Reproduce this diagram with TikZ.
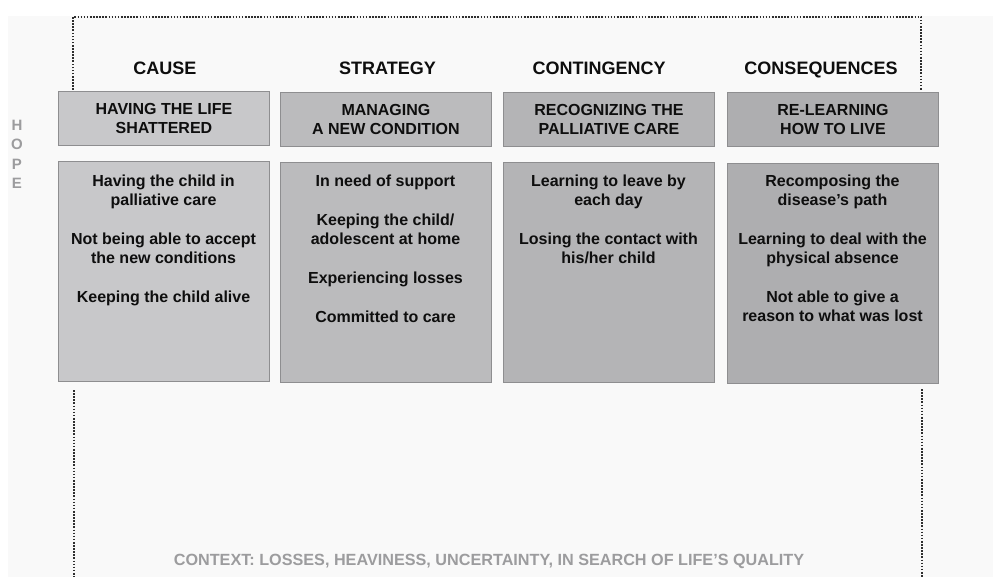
\documentclass[tikz,border=0pt]{standalone}
\usepackage{fontspec}
\setmainfont{Liberation Sans}
\definecolor{bgc}{HTML}{F9F9F9}
\definecolor{txt}{HTML}{0E0E0E}
\definecolor{faint}{HTML}{9C9C9E}
\definecolor{edge}{HTML}{8E8E90}
\definecolor{dotc}{HTML}{2E2E2E}
\definecolor{fa}{HTML}{C8C8CA}
\definecolor{fb}{HTML}{BBBBBD}
\definecolor{fc}{HTML}{B4B4B6}
\definecolor{fd}{HTML}{AEAEB0}
\tikzset{
  head/.style={font=\fontsize{18}{20}\selectfont\bfseries, text=txt, inner sep=0pt, anchor=base},
  titlebox/.style={draw=edge, line width=0.9pt, minimum width=211pt, minimum height=54pt,
     font=\fontsize{16}{19}\selectfont\bfseries, text=txt, align=center, inner sep=0pt, anchor=north west},
  bodybox/.style={draw=edge, line width=0.9pt, minimum width=211pt, minimum height=220pt, inner sep=0pt, anchor=north west},
  bodytext/.style={font=\fontsize{16}{19}\selectfont\bfseries, text=txt, align=center, inner sep=0pt, anchor=north},
  dotline/.style={draw=dotc, line width=2pt, dash pattern=on 1.6pt off 1.5pt},
  hopel/.style={font=\fontsize{15}{15}\selectfont\bfseries, text=faint, inner sep=0pt}
}
\begin{document}
\begin{tikzpicture}[x=1pt,y=-1pt]
\useasboundingbox (0,0) rectangle (995,577);
\fill[white] (0,0) rectangle (995,577);
\fill[bgc] (8,16) rectangle (993,577);

% dotted frame coordinates
\coordinate (tl) at (73,17);
\coordinate (tr) at (921,17);
\coordinate (lb1) at (73,90);
\coordinate (rb1) at (921,91);
\coordinate (lt2) at (74,390);
\coordinate (lb2) at (74,577);
\coordinate (rt2) at (922,389);
\coordinate (rb2) at (922,577);
\draw[dotline] (lb1) -- (tl) -- (tr) -- (rb1);
\draw[dotline] (lt2) -- (lb2);
\draw[dotline] (rt2) -- (rb2);

% headers
\node[head] (h1) at (165,74.5) {CAUSE};
\node[head] (h2) at (387.5,74.5) {STRATEGY};
\node[head] (h3) at (599,74.5) {CONTINGENCY};
\node[head] (h4) at (821,74.5) {CONSEQUENCES};

% title boxes
\node[titlebox, fill=fa] (t1) at (58,91) {HAVING THE LIFE\\SHATTERED};
\node[titlebox, fill=fb] (t2) at (280,92) {MANAGING\\A NEW CONDITION};
\node[titlebox, fill=fc] (t3) at (503,92) {RECOGNIZING THE\\PALLIATIVE CARE};
\node[titlebox, fill=fd] (t4) at (727,92) {RE-LEARNING\\HOW TO LIVE};

% body boxes
\node[bodybox, fill=fa] (b1) at (58,161) {};
\node[bodybox, fill=fb] (b2) at (280,162) {};
\node[bodybox, fill=fc] (b3) at (503,162) {};
\node[bodybox, fill=fd] (b4) at (727,163) {};

\node[bodytext] (x1) at (163.5,175) {Having the child in\\palliative care\\[20pt]Not being able to accept\\the new conditions\\[20pt]Keeping the child alive};
\node[bodytext] (x2) at (385.5,175) {In need of support\\[20pt]Keeping the child/\\adolescent at home\\[20pt]Experiencing losses\\[20pt]Committed to care};
\node[bodytext] (x3) at (608.5,175) {Learning to leave by\\each day\\[20pt]Losing the contact with\\his/her child};
\node[bodytext] (x4) at (832.5,175) {Recomposing the\\disease’s path\\[20pt]Learning to deal with the\\physical absence\\[20pt]Not able to give a\\reason to what was lost};

% HOPE
\node[hopel] (hp1) at (17,125) {H};
\node[hopel] (hp2) at (17,144) {O};
\node[hopel] (hp3) at (17,164) {P};
\node[hopel] (hp4) at (17,183) {E};

% context
\node[font=\fontsize{16.2}{17}\selectfont\bfseries, text=faint, inner sep=0pt, anchor=base] (ctx) at (489,565)
  {CONTEXT: LOSSES, HEAVINESS, UNCERTAINTY, IN SEARCH OF LIFE’S QUALITY};
\end{tikzpicture}
\end{document}
